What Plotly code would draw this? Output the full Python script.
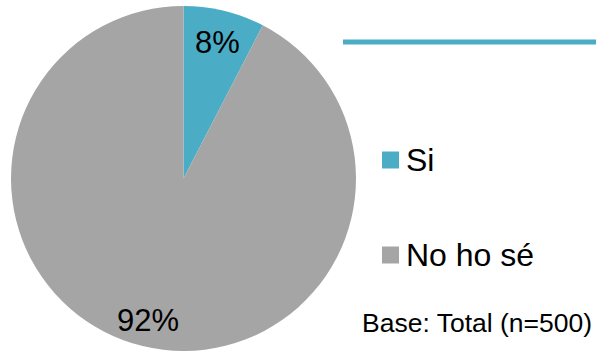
import plotly.graph_objects as go

categories = ["Si", "No ho sé"]
values = [7.6, 92.4]
colors = ["#4BACC6", "#A5A5A5"]
base_note = "Base: Total (n=500)"

W, H = 596, 352
FONT = "Liberation Sans, Arial, sans-serif"

fig = go.Figure(go.Pie(
    labels=categories,
    values=values,
    sort=False,
    direction="clockwise",
    rotation=0,
    marker=dict(colors=colors, line=dict(width=0)),
    textinfo="none",
    hoverinfo="label+percent",
    domain=dict(x=[11 / W, 356 / W], y=[0.5 / H, 346.5 / H]),
    showlegend=False,
))

# slice labels
label_pos = [(217, 42), (148, 320)]
for v, (px, py) in zip(values, label_pos):
    fig.add_annotation(x=px / W, y=1 - py / H, xref="paper", yref="paper",
                       text=f"{round(v)}%", showarrow=False,
                       font=dict(family=FONT, size=31, color="#000000"),
                       xanchor="center", yanchor="middle")

# decorative line top right
fig.add_shape(type="line", xref="paper", yref="paper",
              x0=343 / W, x1=1, y0=1 - 42 / H, y1=1 - 42 / H,
              line=dict(color="#4BACC6", width=5))

# manual legend
legend_y = [160, 255]
for cat, col, ly in zip(categories, colors, legend_y):
    fig.add_shape(type="rect", xref="paper", yref="paper",
                  x0=382 / W, x1=399 / W, y0=1 - (ly + 8.5) / H, y1=1 - (ly - 8.5) / H,
                  fillcolor=col, line=dict(width=0))
    fig.add_annotation(x=404 / W, y=1 - ly / H, xref="paper", yref="paper",
                       text=cat, showarrow=False,
                       font=dict(family=FONT, size=32, color="#000000"),
                       xanchor="left", yanchor="middle")

fig.add_annotation(x=594 / W, y=1 - 323 / H, xref="paper", yref="paper",
                   text=base_note, showarrow=False,
                   font=dict(family=FONT, size=26.5, color="#000000"),
                   xanchor="right", yanchor="middle")

fig.update_layout(width=W, height=H, margin=dict(l=0, r=0, t=0, b=0),
                  paper_bgcolor="white", plot_bgcolor="white")

fig.write_html("out.html")
